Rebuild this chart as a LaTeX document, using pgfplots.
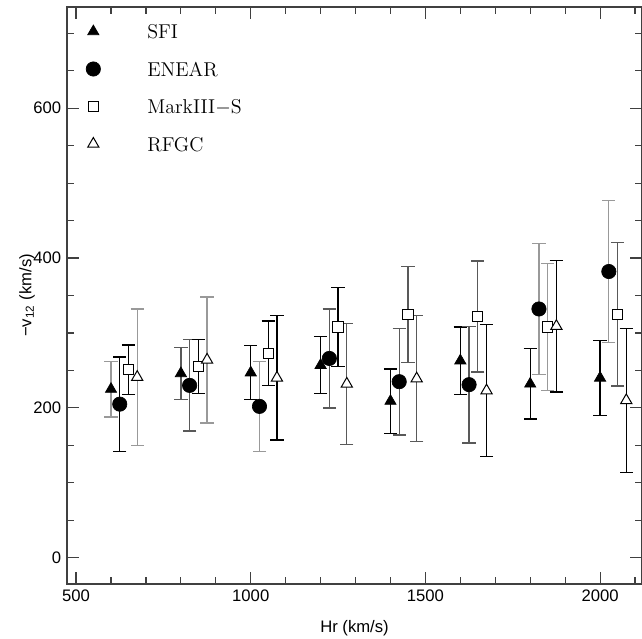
\documentclass[border=0pt]{standalone}
\usepackage{fontspec}
\setsansfont{Liberation Sans}
\usepackage{pgfplots}
\pgfplotsset{compat=1.18}
\usepackage{pgfplotstable}

% c: error bar shade class (0 black, 1 dark grey, 2 light grey)
\pgfplotstableread{
x   y    e  c
600 225 37  2
800 246 35  1
1000 247 36 0
1200 257 38 0
1400 209 43 0
1600 263 45 0
1800 232 47 0
2000 240 50 0
}\sfi
\pgfplotstableread{
x   y    e  c
625 205 63  0
825 230 61  1
1025 202 60 2
1225 266 66 1
1425 235 71 1
1625 231 78 1
1825 332 87 2
2025 382 95 2
}\enear
\pgfplotstableread{
x   y    e  c
650 251 33  0
850 255 36  0
1050 273 43 0
1250 308 53 0
1450 325 64 1
1650 322 74 1
1850 308 85 2
2050 325 96 1
}\markiii
\pgfplotstableread{
x   y    e  c
675 241 91  2
875 264 84  2
1075 240 83 0
1275 232 81 1
1475 239 84 1
1675 223 88 0
1875 309 88 0
2075 210 96 0
}\rfgc

\pgfplotsset{
  mylegend/.style={legend image code/.code={%
    \path[draw=none,fill=none] (0pt,-6pt) (48pt,6pt);
    \draw[##1] plot coordinates {(15.6pt,0pt)};}},
}
\newcommand{\ebars}[3]{%
  \addplot[forget plot, draw=none, mark=none,
    x filter/.expression={\thisrow{c}==#2 ? x : nan},
    error bars/y dir=both, error bars/y explicit,
    error bars/error mark options={rotate=90, mark size=4pt, line width=0.8pt, draw=#3},
    error bars/error bar style={draw=#3, line width=0.8pt}]
    table[x=x, y=y, y error=e] {#1};}

\begin{document}
\begin{tikzpicture}
\begin{axis}[
  scale only axis,
  width=345pt, height=346.2pt,
  xmin=474, xmax=2120,
  ymin=-35, ymax=735,
  xtick={500,1000,1500,2000},
  minor xtick={600,700,800,900,1100,1200,1300,1400,1600,1700,1800,1900,2100},
  ytick={0,200,400,600},
  minor ytick={50,100,150,250,300,350,450,500,550,650,700},
  tick pos=both,
  xticklabel pos=lower, yticklabel pos=left,
  tick align=inside,
  major tick length=7pt, minor tick length=4pt,
  axis line style={black!75, line width=0.7pt},
  every tick/.style={black!75, line width=0.7pt},
  /pgf/number format/assume math mode=true,
  /pgf/number format/1000 sep={},
  ticklabel style={font=\sffamily\fontsize{10}{12}\selectfont},
  label style={font=\sffamily\fontsize{10}{12}\selectfont},
  xlabel={Hr (km/s)},
  ylabel={−v\textsubscript{12} (km/s)},
  xlabel style={at={(axis description cs:0.5,0)}, anchor=center, yshift=-26.4pt},
  ylabel style={at={(axis description cs:0,0.5)}, anchor=center, yshift=24pt},
  legend cell align=left,
  legend style={at={(axis description cs:0,1)}, anchor=north west, draw=none, fill=none,
    font=\fontsize{12}{14}\selectfont, row sep=10.5pt, inner xsep=0pt, inner ysep=0pt,
    yshift=-8.5pt,
    nodes={inner xsep=0pt, inner ysep=0pt, text height=8.5pt, text depth=0pt}},
]
% error bars, drawn first
\ebars{\sfi}{0}{black}
\ebars{\sfi}{1}{black!65}
\ebars{\sfi}{2}{black!40}
\ebars{\enear}{0}{black}
\ebars{\enear}{1}{black!65}
\ebars{\enear}{2}{black!40}
\ebars{\markiii}{0}{black}
\ebars{\markiii}{1}{black!65}
\ebars{\markiii}{2}{black!40}
\ebars{\rfgc}{0}{black}
\ebars{\rfgc}{1}{black!65}
\ebars{\rfgc}{2}{black!40}
% markers
\addplot[only marks, black, mark=triangle*, mark size=3.9pt, mylegend]
  table[x=x, y=y] {\sfi};
\addlegendentry{SFI}
\addplot[only marks, black, mark=*, mark size=4.3pt, mylegend]
  table[x=x, y=y] {\enear};
\addlegendentry{ENEAR}
\addplot[only marks, black, mark=square*, mark size=3.1pt, mark options={line width=0.6pt, fill=white}, mylegend]
  table[x=x, y=y] {\markiii};
\addlegendentry{MarkIII$-$S}
\addplot[only marks, black, mark=triangle*, mark size=3.9pt, mark options={line width=0.6pt, fill=white}, mylegend]
  table[x=x, y=y] {\rfgc};
\addlegendentry{RFGC}
\end{axis}
\pgfresetboundingbox
\path (current axis.south west) ++(-40.2pt,-33pt) coordinate (bl);
\path (current axis.north east) ++(0pt,4.2pt) coordinate (tr);
\path[use as bounding box] (bl) rectangle (tr);
\end{tikzpicture}
\end{document}
